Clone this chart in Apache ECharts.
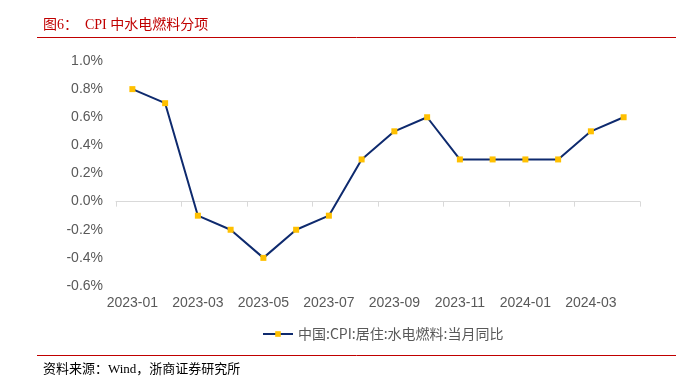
<!DOCTYPE html>
<html>
<head>
<meta charset="utf-8">
<script src="https://cdn.jsdelivr.net/npm/echarts@6/dist/echarts.min.js"></script>
<style>
  html, body { margin: 0; padding: 0; background: #fff; }
  #chart { width: 678px; height: 380px; }
</style>
</head>
<body>
<div id="chart"></div>
<script>
// 月份
var months = ['2023-01', '2023-02', '2023-03', '2023-04', '2023-05', '2023-06', '2023-07', '2023-08',
    '2023-09', '2023-10', '2023-11', '2023-12', '2024-01', '2024-02', '2024-03', '2024-04'];
// 中国:CPI:居住:水电燃料:当月同比 (%)
var shuidianRanliao = [0.8, 0.7, -0.1, -0.2, -0.4, -0.2, -0.1, 0.3, 0.5, 0.6, 0.3, 0.3, 0.3, 0.3, 0.5, 0.6];
var seriesName = '中国:CPI:居住:水电燃料:当月同比';

var myChart = echarts.init(document.getElementById('chart'));
var labelColor = '#595959';

var option = {
    animation: false,
    title: [
        {
            text: '图6：  CPI 中水电燃料分项',
            left: 38,
            top: 13,
            textStyle: {
                color: '#C00000',
                fontWeight: 'normal',
                fontSize: 14,
                fontFamily: '"Liberation Serif", "Noto Sans CJK SC"'
            }
        },
        {
            text: '资料来源：Wind，浙商证券研究所',
            left: 38,
            top: 358,
            textStyle: {
                color: '#000',
                fontWeight: 'normal',
                fontSize: 13,
                fontFamily: '"Liberation Serif", "Noto Sans CJK SC"'
            }
        }
    ],
    graphic: [
        {
            type: 'line',
            shape: { x1: 37, y1: 37.5, x2: 676, y2: 37.5 },
            style: { stroke: '#C00000', lineWidth: 1 }
        },
        {
            type: 'line',
            shape: { x1: 37, y1: 355.5, x2: 676, y2: 355.5 },
            style: { stroke: '#C00000', lineWidth: 1 }
        }
    ],
    legend: {
        top: 322,
        left: 257,
        itemWidth: 30,
        itemHeight: 7,
        itemGap: 10,
        textStyle: {
            color: labelColor,
            fontSize: 14,
            fontFamily: '"Noto Sans CJK SC", "Liberation Sans"'
        },
        data: [seriesName]
    },
    grid: {
        left: 116,
        right: 38,
        top: 61,
        bottom: 94
    },
    xAxis: [
        {
            type: 'category',
            data: months,
            boundaryGap: true,
            axisLine: {
                onZero: true,
                lineStyle: { color: '#D9D9D9', width: 1 }
            },
            axisTick: {
                show: true,
                interval: 1,
                length: 5,
                lineStyle: { color: '#D9D9D9' }
            },
            axisLabel: { show: false },
            splitLine: { show: false }
        },
        {
            type: 'category',
            data: months,
            position: 'bottom',
            boundaryGap: true,
            axisLine: { show: false, onZero: false },
            axisTick: { show: false },
            axisLabel: {
                interval: 1,
                margin: 10,
                color: labelColor,
                fontSize: 14,
                fontFamily: '"Liberation Sans", Arial'
            },
            splitLine: { show: false }
        }
    ],
    yAxis: {
        type: 'value',
        min: -0.6,
        max: 1.0,
        interval: 0.2,
        axisLine: { show: false },
        axisTick: { show: false },
        splitLine: { show: false },
        axisLabel: {
            margin: 13,
            color: labelColor,
            fontSize: 14,
            fontFamily: '"Liberation Sans", Arial',
            formatter: function (v) {
                return v.toFixed(1) + '%';
            }
        }
    },
    series: [
        {
            name: seriesName,
            type: 'line',
            xAxisIndex: 0,
            data: shuidianRanliao,
            symbol: 'rect',
            symbolSize: 6,
            showAllSymbol: true,
            itemStyle: { color: '#FFC000', borderWidth: 0 },
            lineStyle: { color: '#0E2A6E', width: 2 }
        }
    ]
};

myChart.setOption(option);
</script>
</body>
</html>
